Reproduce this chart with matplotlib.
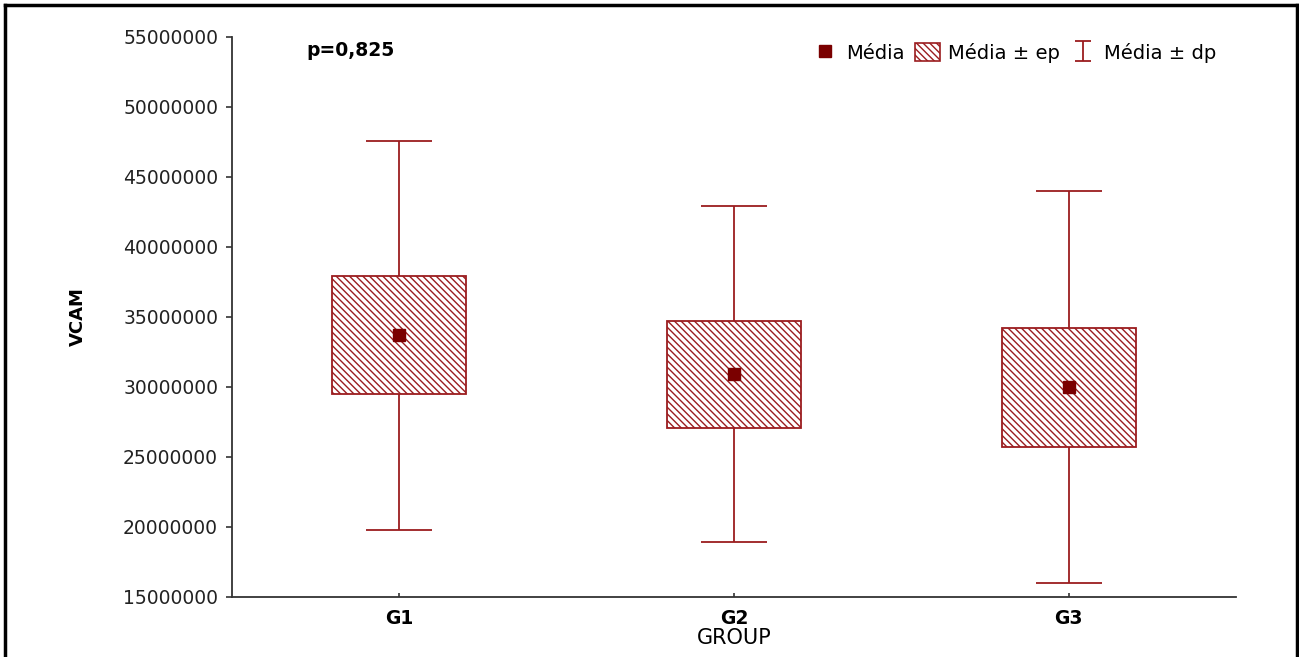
import numpy as np
import matplotlib.pyplot as plt
from matplotlib.patches import Rectangle, Patch
from matplotlib.lines import Line2D
from matplotlib.path import Path

plt.rcParams['font.family'] = ['DejaVu Sans']
plt.rcParams['hatch.linewidth'] = 1.0

# group summary: mean, standard error, standard deviation
groups = ['G1', 'G2', 'G3']
means = [33.7e6, 30.9e6, 30.0e6]
ep = [4.2e6, 3.8e6, 4.25e6]
dp = [13.9e6, 12.0e6, 14.0e6]

red = '#9b1c1f'
dark = '#7a0000'

fig = plt.figure(figsize=(12.99, 6.57), dpi=100)
ax = fig.add_axes([232/1299, 60/657, (1236-232)/1299, (597-37)/657])

x = np.arange(1, len(groups) + 1)
box_w = 0.4

# mean +/- sd whiskers
ax.errorbar(x, means, yerr=dp, fmt='none', ecolor=red, elinewidth=1.3,
            capsize=23.5, capthick=1.3, zorder=1)

# mean +/- se hatched boxes
for xi, m, e in zip(x, means, ep):
    ax.add_patch(Rectangle((xi - box_w/2, m - e), box_w, 2*e, facecolor='white',
                           edgecolor=red, hatch='\\\\\\\\\\', linewidth=1.3, zorder=2))

ax.plot(x, means, 's', color=dark, markersize=8, linestyle='none', zorder=3)

ax.set_xlim(0.5, 3.5)
ax.set_ylim(15e6, 55e6)
yt = np.arange(15e6, 55e6 + 1, 5e6)
ax.set_yticks(yt)
ax.set_yticklabels([f'{int(v)}' for v in yt])
ax.set_xticks(x)
ax.set_xticklabels(groups, fontweight='bold')

for s in ['top', 'right']:
    ax.spines[s].set_visible(False)
for s in ['left', 'bottom']:
    ax.spines[s].set_color('#333333')
    ax.spines[s].set_linewidth(1.3)
ax.tick_params(axis='y', direction='out', length=4, width=1.2, color='#333333',
               labelsize=13.5, labelcolor='#222222', pad=6)
ax.tick_params(axis='x', direction='in', length=3, width=1.2, color='#333333',
               labelsize=13.5, pad=9)

ax.set_ylabel('VCAM', fontsize=13, fontweight='bold', labelpad=26)
ax.set_xlabel('GROUP', fontsize=15, labelpad=0)

ax.text(0.074, 0.975, 'p=0,825', transform=ax.transAxes, fontsize=13.5,
        fontweight='bold', va='center', ha='left')

# I-beam marker for the mean +/- sd legend entry
ibeam = Path([(-0.8, 1), (0.8, 1), (0, 1), (0, -1), (-0.8, -1), (0.8, -1)],
             [Path.MOVETO, Path.LINETO, Path.MOVETO, Path.LINETO, Path.MOVETO, Path.LINETO])

handles = [
    Line2D([], [], marker='s', color=dark, linestyle='none', markersize=8),
    Patch(facecolor='white', edgecolor=red, hatch='\\\\\\\\\\', linewidth=1.2),
    Line2D([], [], marker=ibeam, color=red, markerfacecolor='none', markeredgewidth=1.3,
           linestyle='none', markersize=15),
]
leg = ax.legend(handles, ['Média', 'Média ± ep', 'Média ± dp'],
                loc='center right', bbox_to_anchor=(0.99, 0.972), ncol=3, frameon=False,
                fontsize=14, handlelength=1.25, handleheight=1.0, handletextpad=0.45,
                columnspacing=0.55, borderpad=0)

# outer frame
fig.add_artist(Line2D([5/1299, 5/1299], [0, 1 - 5/657], transform=fig.transFigure,
                      color='black', linewidth=2.5))
fig.add_artist(Line2D([5/1299, 1297/1299], [1 - 5/657, 1 - 5/657], transform=fig.transFigure,
                      color='black', linewidth=2.5))
fig.add_artist(Line2D([1297/1299, 1297/1299], [0, 1 - 5/657], transform=fig.transFigure,
                      color='black', linewidth=2.5))

fig.savefig('out.png', dpi=100)
